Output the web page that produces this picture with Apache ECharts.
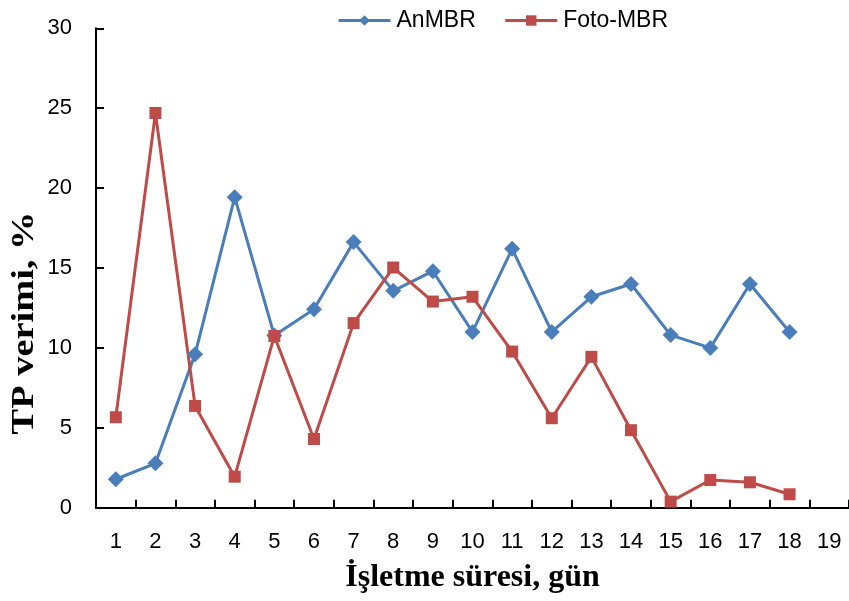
<!DOCTYPE html>
<html>
<head>
<meta charset="utf-8">
<script src="https://cdn.jsdelivr.net/npm/echarts@6/dist/echarts.min.js"></script>
<style>html,body{margin:0;padding:0;background:#fff}#c{width:849px;height:601px}</style>
</head>
<body>
<div id="c"></div>
<script>
const categories = ['1','2','3','4','5','6','7','8','9','10','11','12','13','14','15','16','17','18','19'];
const anMBR = [1.78, 2.78, 9.6, 19.43, 10.77, 12.42, 16.62, 13.57, 14.8, 11.0, 16.2, 11.0, 13.2, 14.0, 10.8, 10.0, 14.0, 11.0];
const fotoMBR = [5.66, 24.7, 6.37, 1.94, 10.75, 4.3, 11.55, 15.03, 12.9, 13.2, 9.77, 5.6, 9.44, 4.85, 0.38, 1.73, 1.59, 0.84];
const seriesNames = ['AnMBR', 'Foto-MBR'];
const xTitle = 'İşletme süresi, gün';
const yTitle = 'TP verimi, %';

const chart = echarts.init(document.getElementById('c'), null, {renderer: 'canvas'});
const labelFont = "'Liberation Sans', 'Open Sans', sans-serif";
chart.setOption({
  animation: false,
  backgroundColor: '#fff',
  grid: {left: 96, top: 28.3, width: 756, height: 479.4, containLabel: false},
  legend: {
    left: 332, top: 4,
    itemWidth: 52, itemHeight: 13, itemGap: 28,
    lineStyle: {width: 3},
    textStyle: {fontSize: 23, color: '#000', fontFamily: labelFont, padding: [0,0,0,1]},
    data: seriesNames
  },
  xAxis: {
    type: 'category',
    data: categories,
    boundaryGap: true,
    axisLine: {lineStyle: {color: '#000', width: 2}},
    axisTick: {show: true, inside: true, length: 8, lineStyle: {color: '#000', width: 2}},
    axisLabel: {fontSize: 22, color: '#000', margin: 23, fontFamily: labelFont},
    splitLine: {show: false},
    name: xTitle,
    nameLocation: 'middle',
    nameGap: 54,
    nameTextStyle: {fontSize: 32, fontWeight: 'bold', fontFamily: "'Liberation Serif', serif", color: '#000'}
  },
  yAxis: {
    type: 'value',
    min: 0, max: 30, interval: 5,
    axisLine: {show: true, lineStyle: {color: '#000', width: 2}},
    axisTick: {show: true, inside: true, length: 8, lineStyle: {color: '#000', width: 2}},
    axisLabel: {fontSize: 22, color: '#000', margin: 24, fontFamily: labelFont},
    splitLine: {show: false}
  },
  graphic: [{
    type: 'text',
    x: 25, y: 323,
    rotation: Math.PI / 2,
    scaleX: 1.2,
    style: {
      text: yTitle,
      font: "bold 32px 'Liberation Serif', serif",
      fill: '#000',
      align: 'center',
      verticalAlign: 'middle'
    }
  }],
  series: [
    {
      name: seriesNames[0], type: 'line', data: anMBR,
      symbol: 'diamond', symbolSize: 16,
      itemStyle: {color: '#4A7EBB'},
      lineStyle: {color: '#4A7EBB', width: 3}
    },
    {
      name: seriesNames[1], type: 'line', data: fotoMBR,
      symbol: 'rect', symbolSize: 12,
      itemStyle: {color: '#BE4B48'},
      lineStyle: {color: '#BE4B48', width: 3}
    }
  ]
});
</script>
</body>
</html>
